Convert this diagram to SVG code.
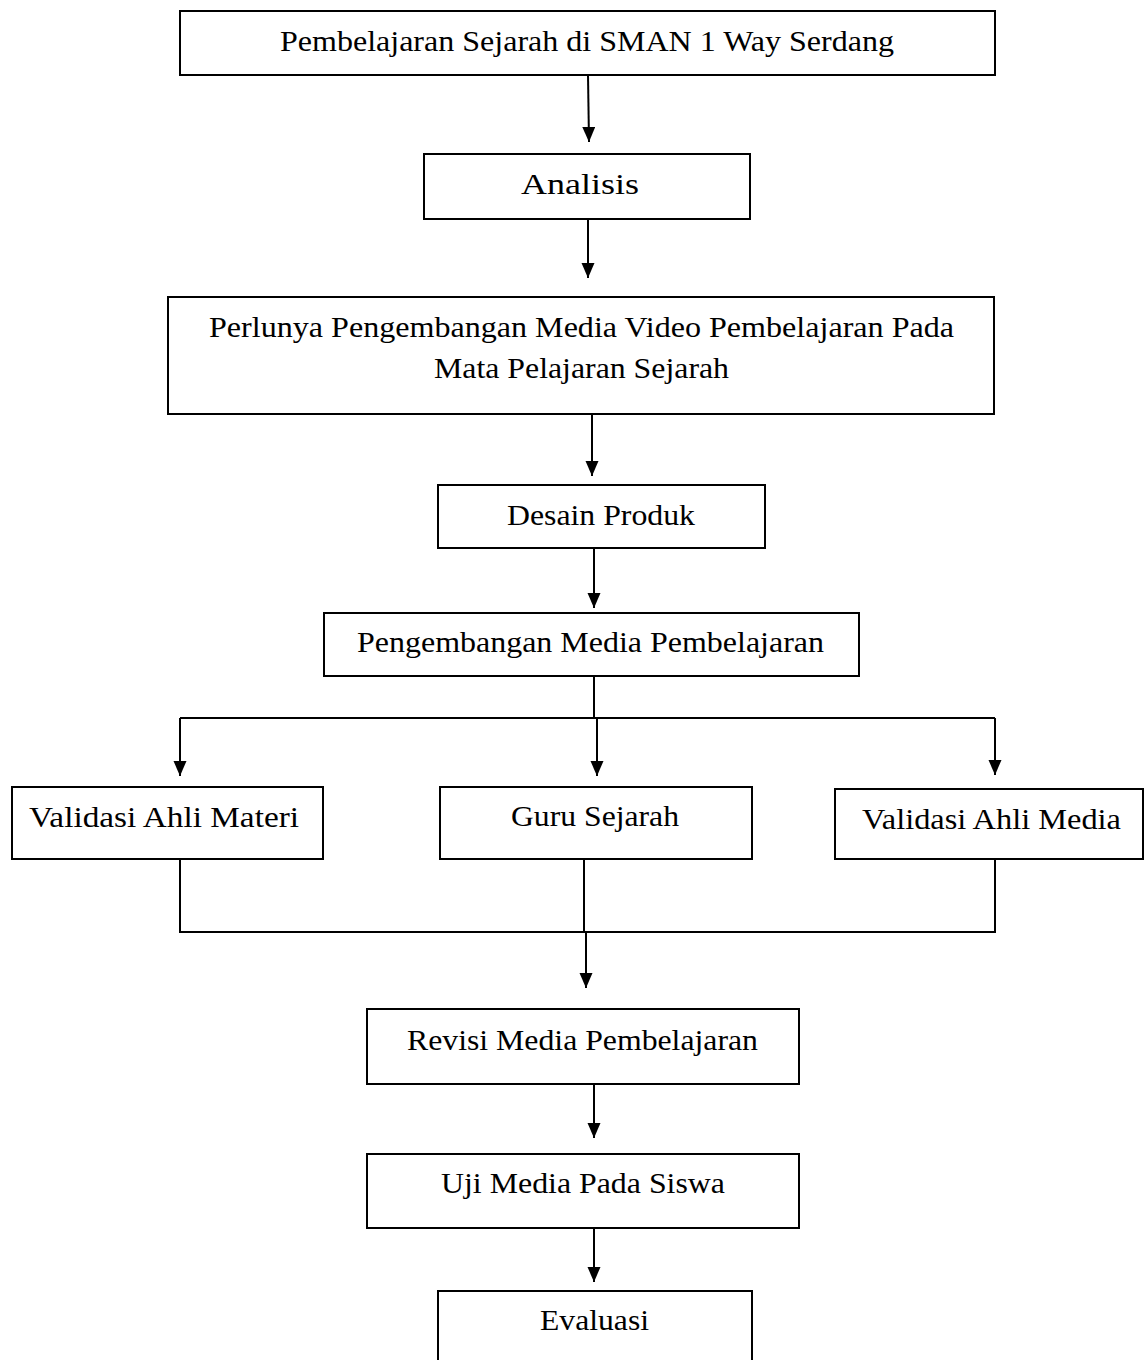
<svg xmlns="http://www.w3.org/2000/svg" width="1145" height="1360" viewBox="0 0 1145 1360">
<style>
.box{fill:#fff;stroke:#000;stroke-width:2}
.t{font-size:30px;fill:#000;text-anchor:middle}
.c{fill:none;stroke:#000;stroke-width:2}
</style>
<defs>
<marker id="ah" markerUnits="userSpaceOnUse" markerWidth="16" markerHeight="14" refX="15" refY="6.5" orient="auto">
<path d="M0,0 L15,6.5 L0,13 z" fill="#000"/>
</marker>
</defs>
<rect width="1145" height="1360" fill="#fff"/>
<g id="connectors">
<path class="c" d="M588,75 L589,142" marker-end="url(#ah)"/>
<path class="c" d="M588,219 L588,278" marker-end="url(#ah)"/>
<path class="c" d="M592,414 L592,476" marker-end="url(#ah)"/>
<path class="c" d="M594,548 L594,608" marker-end="url(#ah)"/>
<path class="c" d="M594,676 L594,718"/>
<path class="c" d="M180,718 L995,718"/>
<path class="c" d="M180,718 L180,776" marker-end="url(#ah)"/>
<path class="c" d="M597,718 L597,776" marker-end="url(#ah)"/>
<path class="c" d="M995,718 L995,775" marker-end="url(#ah)"/>
<path class="c" d="M180,859 L180,932 L995,932 L995,859"/>
<path class="c" d="M584,859 L584,932"/>
<path class="c" d="M586,932 L586,988" marker-end="url(#ah)"/>
<path class="c" d="M594,1084 L594,1138" marker-end="url(#ah)"/>
<path class="c" d="M594,1228 L594,1282" marker-end="url(#ah)"/>
</g>
<g id="nodes" font-family="Liberation Serif, serif">
<g id="n1"><rect class="box" x="180" y="11" width="815" height="64"/><text class="t" x="587" y="51" textLength="614" lengthAdjust="spacingAndGlyphs">Pembelajaran Sejarah di SMAN 1 Way Serdang</text></g>
<g id="n2"><rect class="box" x="424" y="154" width="326" height="65"/><text class="t" x="580" y="194" textLength="118" lengthAdjust="spacingAndGlyphs">Analisis</text></g>
<g id="n3"><rect class="box" x="168" y="297" width="826" height="117"/><text class="t" x="581.5" y="337" textLength="745" lengthAdjust="spacingAndGlyphs">Perlunya Pengembangan Media Video Pembelajaran Pada</text><text class="t" x="581.5" y="378" textLength="295" lengthAdjust="spacingAndGlyphs">Mata Pelajaran Sejarah</text></g>
<g id="n4"><rect class="box" x="438" y="485" width="327" height="63"/><text class="t" x="601" y="525" textLength="188" lengthAdjust="spacingAndGlyphs">Desain Produk</text></g>
<g id="n5"><rect class="box" x="324" y="613" width="535" height="63"/><text class="t" x="590.5" y="652" textLength="467" lengthAdjust="spacingAndGlyphs">Pengembangan Media Pembelajaran</text></g>
<g id="n6"><rect class="box" x="12" y="787" width="311" height="72"/><text class="t" x="164" y="827" textLength="270" lengthAdjust="spacingAndGlyphs">Validasi Ahli Materi</text></g>
<g id="n7"><rect class="box" x="440" y="787" width="312" height="72"/><text class="t" x="595" y="826" textLength="168" lengthAdjust="spacingAndGlyphs">Guru Sejarah</text></g>
<g id="n8"><rect class="box" x="835" y="789" width="308" height="70"/><text class="t" x="991.5" y="829" textLength="259" lengthAdjust="spacingAndGlyphs">Validasi Ahli Media</text></g>
<g id="n9"><rect class="box" x="367" y="1009" width="432" height="75"/><text class="t" x="582.5" y="1050" textLength="351" lengthAdjust="spacingAndGlyphs">Revisi Media Pembelajaran</text></g>
<g id="n10"><rect class="box" x="367" y="1154" width="432" height="74"/><text class="t" x="583" y="1193" textLength="284" lengthAdjust="spacingAndGlyphs">Uji Media Pada Siswa</text></g>
<g id="n11"><rect class="box" x="438" y="1291" width="314" height="90"/><text class="t" x="594.5" y="1330" textLength="109" lengthAdjust="spacingAndGlyphs">Evaluasi</text></g>
</g>
</svg>
